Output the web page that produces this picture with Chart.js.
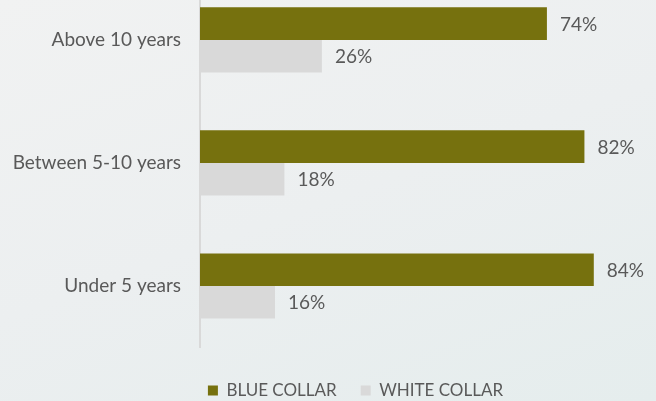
<!DOCTYPE html>
<html>
<head>
<meta charset="utf-8">
<script src="https://cdn.jsdelivr.net/npm/chart.js@4"></script>
<style>
  html, body { margin: 0; padding: 0; }
  body {
    width: 656px; height: 401px; overflow: hidden; position: relative;
    background: linear-gradient(160deg, #f1f2f2 0%, #eceff0 50%, #e5eded 100%);
  }
  #wrap { position: absolute; left: 0; top: -52px; width: 711px; height: 470px; }
</style>
</head>
<body>
<div id="wrap"><canvas id="chart"></canvas></div>
<script>
const categories = ['Above 10 years', 'Between 5-10 years', 'Under 5 years'];
const blueCollar = [74, 82, 84];
const whiteCollar = [26, 18, 16];

const textColor = '#595959';
const fontFamily = "Lato, 'Liberation Sans', sans-serif";
Chart.defaults.font.family = fontFamily;
Chart.defaults.font.size = 19;
Chart.defaults.color = textColor;

// percent labels to the right of each bar
const barLabels = {
    id: 'barLabels',
    afterDatasetsDraw(chart) {
        const ctx = chart.ctx;
        ctx.save();
        ctx.font = '19px ' + fontFamily;
        ctx.fillStyle = textColor;
        ctx.textAlign = 'left';
        ctx.textBaseline = 'middle';
        chart.data.datasets.forEach((ds, i) => {
            chart.getDatasetMeta(i).data.forEach((bar, j) => {
                ctx.fillText(ds.data[j] + '%', bar.x + 13, bar.y + 1);
            });
        });
        ctx.restore();
    }
};

new Chart(document.getElementById('chart'), {
    type: 'bar',
    data: {
        labels: categories,
        datasets: [
            { label: 'BLUE COLLAR', data: blueCollar, backgroundColor: '#76710e' },
            { label: 'WHITE COLLAR', data: whiteCollar, backgroundColor: '#d9d9d9' }
        ]
    },
    options: {
        indexAxis: 'y',
        responsive: true,
        maintainAspectRatio: false,
        animation: false,
        layout: { padding: { left: 0, right: 0, top: 0, bottom: 9 } },
        datasets: { bar: { categoryPercentage: 0.53, barPercentage: 1.0 } },
        scales: {
            x: {
                min: 0, max: 109,
                ticks: { display: false },
                grid: { display: false, drawTicks: false },
                border: { display: false },
                afterFit(s) { s.height = 10.5; }
            },
            y: {
                grid: { display: false, drawTicks: false },
                border: { color: '#d9d9d9', width: 2 },
                ticks: { padding: 19, color: textColor, font: { size: 19 } },
                afterFit(s) { s.width = 200; }
            }
        },
        plugins: {
            legend: {
                position: 'bottom',
                labels: { boxWidth: 10, boxHeight: 10, padding: 24, color: textColor, font: { size: 17 } }
            },
            tooltip: { enabled: false }
        }
    },
    plugins: [barLabels]
});
</script>
</body>
</html>
